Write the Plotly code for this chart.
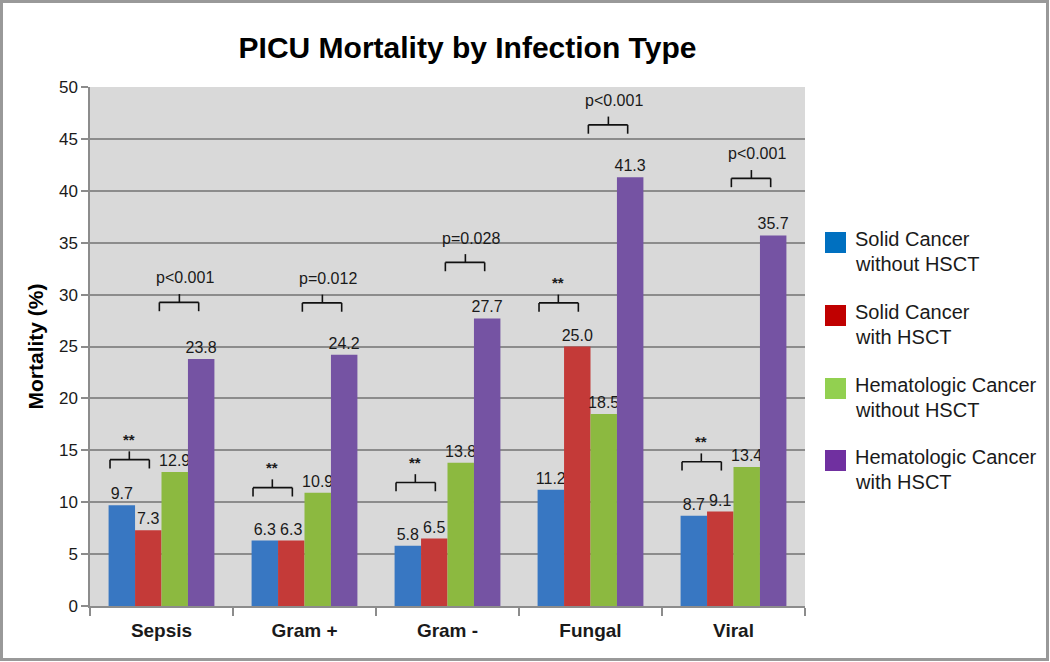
import plotly.graph_objects as go

categories = ["Sepsis", "Gram +", "Gram -", "Fungal", "Viral"]
series_names = [
    "Solid Cancer\nwithout HSCT",
    "Solid Cancer\nwith HSCT",
    "Hematologic Cancer\nwithout HSCT",
    "Hematologic Cancer\nwith HSCT",
]
solid_no_hsct = [9.7, 6.3, 5.8, 11.2, 8.7]
solid_hsct = [7.3, 6.3, 6.5, 25.0, 9.1]
heme_no_hsct = [12.9, 10.9, 13.8, 18.5, 13.4]
heme_hsct = [23.8, 24.2, 27.7, 41.3, 35.7]
star_labels = ["**", "**", "**", "**", "**"]
p_labels = ["p<0.001", "p=0.012", "p=0.028", "p<0.001", "p<0.001"]

# bracket heights (annotation placement, in axis units)
star_level = [14.1, 11.4, 11.9, 29.2, 13.9]
p_level = [29.25, 29.2, 33.1, 46.35, 41.2]

values = [solid_no_hsct, solid_hsct, heme_no_hsct, heme_hsct]
bar_colors = ["#3877c2", "#c43a38", "#8cb940", "#7553a3"]
legend_colors = ["#0070c0", "#c00000", "#92d050", "#7030a0"]

FONT = "Liberation Sans, Arial, sans-serif"
TXT = "#1a1a1a"

fig = go.Figure()
for name, vals, col in zip(series_names, values, bar_colors):
    fig.add_trace(go.Bar(
        x=categories, y=vals, name=name.replace("\n", " "),
        marker=dict(color=col, line=dict(width=0)),
        text=[f"{v:.1f}" for v in vals], textposition="outside",
        constraintext="none", cliponaxis=False,
        textfont=dict(family=FONT, size=16, color=TXT),
        showlegend=False,
    ))

# plot-area geometry in pixels (for paper conversions)
X0, X1, Y0, Y1 = 90, 805, 87, 606
W, H = X1 - X0, Y1 - Y0
def px(x):
    return (x - X0) / W
def py(y):
    return (Y1 - y) / H

shapes = []
annos = []
LINE = dict(color="#111111", width=1.6)

def bracket(i, left, right, stem, level):
    drop, rise = 0.85, 0.8
    shapes.append(dict(type="line", xref="x", yref="y", x0=i + left, x1=i + right, y0=level, y1=level, line=LINE))
    shapes.append(dict(type="line", xref="x", yref="y", x0=i + left, x1=i + left, y0=level, y1=level - drop, line=LINE))
    shapes.append(dict(type="line", xref="x", yref="y", x0=i + right, x1=i + right, y0=level, y1=level - drop, line=LINE))
    shapes.append(dict(type="line", xref="x", yref="y", x0=i + stem, x1=i + stem, y0=level, y1=level + rise, line=LINE))

for i in range(len(categories)):
    bracket(i, -0.36, -0.085, -0.225, star_level[i])
    annos.append(dict(xref="x", yref="y", x=i - 0.225, y=star_level[i] + 1.95, text="<b>" + star_labels[i] + "</b>",
                      showarrow=False, font=dict(family=FONT, size=15, color=TXT), yanchor="middle"))
    bracket(i, -0.015, 0.26, 0.125, p_level[i])
    annos.append(dict(xref="x", yref="y", x=i + 0.165, y=p_level[i] + 2.35, text=p_labels[i],
                      showarrow=False, font=dict(family=FONT, size=16, color=TXT), yanchor="middle"))

# manual legend
sq_tops = [232, 305, 378, 450]
for name, col, top in zip(series_names, legend_colors, sq_tops):
    shapes.append(dict(type="rect", xref="paper", yref="paper", x0=px(825), x1=px(846),
                       y0=py(top + 21), y1=py(top), fillcolor=col, line=dict(width=0)))
    for k, line in enumerate(name.split("\n")):
        annos.append(dict(xref="paper", yref="paper", x=px(853), y=py(top + 7 + 25 * k), text=line,
                          showarrow=False, xanchor="left", yanchor="middle",
                          font=dict(family=FONT, size=20, color=TXT)))

# outer frame
shapes.append(dict(type="rect", xref="paper", yref="paper", x0=px(1.5), x1=px(1047.5), y0=py(659.5), y1=py(1.5),
                   line=dict(color="#999999", width=3), fillcolor="rgba(0,0,0,0)", layer="above"))

fig.update_layout(
    width=1050, height=662,
    margin=dict(l=X0, r=1050 - X1, t=Y0, b=662 - Y1),
    paper_bgcolor="white", plot_bgcolor="#d9d9d9",
    barmode="group", bargap=0.26, bargroupgap=0,
    title=dict(text="<b>PICU Mortality by Infection Type</b>", x=px(467.5), xref="paper", xanchor="center",
               y=1 - 47 / 662, yanchor="middle", font=dict(family=FONT, size=30, color="#000000")),
    xaxis=dict(type="category", showline=True, linecolor="#8c8c8c", linewidth=1.5,
               ticks="outside", tickson="boundaries", ticklen=8, tickcolor="#8c8c8c", tickwidth=1.5,
               tickfont=dict(family=FONT, size=19, color=TXT), showgrid=False,
               ticklabelstandoff=6, tickprefix="<b>", ticksuffix="</b>"),
    yaxis=dict(range=[0, 50], dtick=5, showline=True, linecolor="#8c8c8c", linewidth=1.5,
               ticks="outside", ticklen=7, tickcolor="#8c8c8c", tickwidth=1.5,
               gridcolor="#8c8c8c", gridwidth=1.5, zeroline=False,
               tickfont=dict(family=FONT, size=17, color=TXT),
               title=dict(text="<b>Mortality (%)</b>", font=dict(family=FONT, size=21, color="#000000"), standoff=10)),
    shapes=shapes, annotations=annos,
    showlegend=False,
)

fig.write_html("out.html", config={"displayModeBar": False},
               post_script="document.body.style.margin='0';document.body.style.padding='0';")
